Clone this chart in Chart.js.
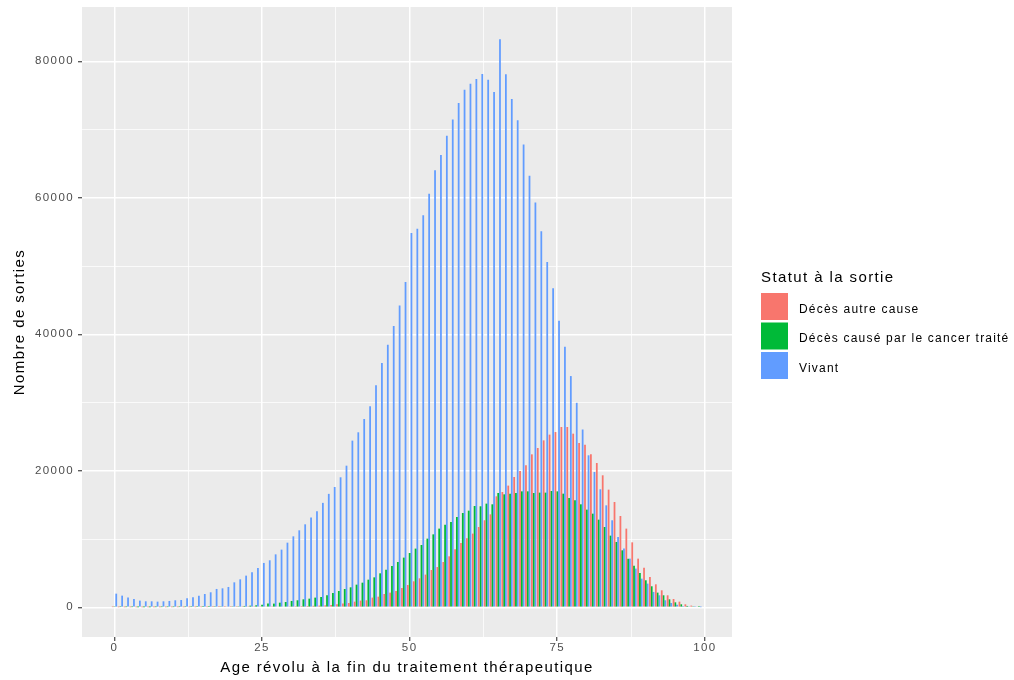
<!DOCTYPE html>
<html lang="fr">
<head>
<meta charset="utf-8">
<title>Statut à la sortie selon l'âge</title>
<script src="https://cdn.jsdelivr.net/npm/chart.js@4.4.1/dist/chart.umd.min.js"></script>
<style>
  html, body { margin: 0; padding: 0; background: #fff; }
  #chart { display: block; }
</style>
</head>
<body>
<canvas id="chart" width="1014" height="680"></canvas>
<script>
// Ages (x) and counts per status
const ages = [
  0, 1, 2, 3, 4, 5, 6, 7, 8, 9, 10, 11, 12, 13, 14, 15, 16, 17, 18, 19,
  20, 21, 22, 23, 24, 25, 26, 27, 28, 29, 30, 31, 32, 33, 34, 35, 36, 37, 38, 39,
  40, 41, 42, 43, 44, 45, 46, 47, 48, 49, 50, 51, 52, 53, 54, 55, 56, 57, 58, 59,
  60, 61, 62, 63, 64, 65, 66, 67, 68, 69, 70, 71, 72, 73, 74, 75, 76, 77, 78, 79,
  80, 81, 82, 83, 84, 85, 86, 87, 88, 89, 90, 91, 92, 93, 94, 95, 96, 97, 98, 99,
];

const autreCause = [
  30, 10, 10, 10, 10, 10, 10, 10, 10, 10, 15, 15, 15, 20, 20, 25, 30, 35, 40, 45,
  50, 55, 60, 65, 70, 80, 90, 100, 110, 120, 140, 160, 180, 200, 220, 250, 290, 340, 440, 540,
  630, 830, 980, 1030, 1420, 1560, 1950, 2150, 2390, 2830, 3270, 3810, 4250, 4790, 5470, 5900, 6640, 7470, 8500, 9420,
  10110, 10800, 11770, 12750, 13620, 16260, 16890, 17830, 19090, 19970, 20800, 22410, 23340, 24460, 25300, 25680, 26420, 26420, 25440, 24070,
  23830, 22410, 21140, 19340, 17240, 15430, 13380, 11530, 9520, 7130, 5810, 4440, 3370, 2490, 1760, 1220, 830, 440, 250, 100,
];

const cancerTraite = [
  60, 40, 30, 30, 25, 25, 25, 25, 30, 30, 30, 35, 35, 40, 45, 50, 55, 60, 70, 100,
  150, 150, 200, 240, 290, 390, 540, 540, 680, 780, 930, 1030, 1170, 1270, 1420, 1510, 1760, 2100, 2390, 2680,
  2930, 3320, 3610, 4050, 4390, 4980, 5520, 6050, 6640, 7280, 7960, 8600, 9130, 10060, 10690, 11530, 12110, 12500, 13230, 13820,
  14160, 14840, 14800, 15190, 15090, 16750, 16550, 16650, 16750, 16990, 16990, 16750, 16800, 16800, 17040, 16990, 16650, 16010, 15680, 15090,
  14310, 13720, 12840, 11770, 10500, 9570, 8350, 7130, 6100, 5030, 3960, 3080, 2150, 1760, 1170, 730, 440, 200, 100, 30,
];

const vivant = [
  2000, 1710, 1420, 1220, 980, 880, 880, 830, 880, 930, 1030, 1070, 1320, 1460, 1710, 1950, 2200, 2690, 2780, 2980,
  3660, 4100, 4640, 5130, 5760, 6500, 6890, 7760, 8450, 9470, 10400, 11280, 12160, 13140, 14060, 15300, 16620, 17630, 19050, 20750,
  24420, 25640, 27590, 29450, 32520, 35790, 38480, 41210, 44200, 47660, 54840, 55480, 57430, 60600, 64020, 66270, 69100, 71450, 73880, 75840,
  76720, 77400, 78130, 77300, 75490, 83210, 78080, 74470, 71350, 67790, 63240, 59310, 55080, 50590, 46730, 42000, 38190, 33880, 29960, 26050,
  22270, 19830, 17290, 14940, 12750, 10300, 8600, 7130, 5670, 4200, 3470, 2250, 1760, 1030, 630, 390, 200, 100, 50, 20,
];

const seriesLabels = ["Décès autre cause", "Décès causé par le cancer traité", "Vivant"];
const seriesColors = ["#F8766D", "#00BA38", "#619CFF"];
const legendTitle = "Statut à la sortie";

// Gridlines: every tick gets a line, only the labelled ones are major
const yTicks = [0, 10000, 20000, 30000, 40000, 50000, 60000, 70000, 80000];
const yLabelled = [0, 20000, 40000, 60000, 80000];
const xTicks = [0, 12.5, 25, 37.5, 50, 62.5, 75, 87.5, 100];
const xLabelled = [0, 25, 50, 75, 100];

const FONT = "'Liberation Sans', Arial, sans-serif";
const SPACING = "1.4px";

Chart.defaults.font.family = FONT;

function toPoints(values) {
  return ages.map((age, i) => ({ x: age, y: values[i] }));
}

function isMajor(list, c) {
  return !!(c.tick && list.includes(c.tick.value));
}

// grey panel behind the bars (ggplot look)
const panelBackground = {
  id: "panelBackground",
  beforeDraw(chart) {
    const { ctx, chartArea } = chart;
    ctx.letterSpacing = SPACING;
    ctx.save();
    ctx.fillStyle = "#EBEBEB";
    ctx.fillRect(chartArea.left, chartArea.top,
      chartArea.right - chartArea.left, chartArea.bottom - chartArea.top);
    ctx.restore();
  },
};

// legend on the right, square keys like ggplot
const sideLegend = {
  id: "sideLegend",
  afterDraw(chart) {
    const ctx = chart.ctx;
    ctx.save();
    ctx.textBaseline = "alphabetic";
    ctx.textAlign = "left";
    ctx.fillStyle = "#000";
    ctx.letterSpacing = SPACING;
    ctx.font = "15px " + FONT;
    ctx.fillText(legendTitle, 761, 282);

    ctx.letterSpacing = "1.2px";
    ctx.font = "12px " + FONT;
    chart.data.datasets.forEach((ds, i) => {
      const top = 293 + i * 29.5;
      ctx.fillStyle = ds.backgroundColor;
      ctx.fillRect(761, top, 27, 27);
      ctx.fillStyle = "#000";
      ctx.fillText(ds.label, 799, top + 19.5);
    });
    ctx.restore();
  },
};

const ctx = document.getElementById("chart");

new Chart(ctx, {
  type: "bar",
  data: {
    datasets: [
      { label: seriesLabels[0], data: toPoints(autreCause), backgroundColor: seriesColors[0] },
      { label: seriesLabels[1], data: toPoints(cancerTraite), backgroundColor: seriesColors[1] },
      { label: seriesLabels[2], data: toPoints(vivant), backgroundColor: seriesColors[2] },
    ],
  },
  options: {
    responsive: false,
    animation: false,
    devicePixelRatio: 1,
    layout: {
      padding: { top: 7, right: 282, bottom: 0, left: 0 },
    },
    datasets: {
      bar: {
        categoryPercentage: 0.9,
        barPercentage: 1,
        borderWidth: 0,
      },
    },
    plugins: {
      legend: { display: false },
      tooltip: { enabled: false },
    },
    scales: {
      x: {
        type: "linear",
        min: -5.5,
        max: 104.6,
        offset: false,
        afterBuildTicks: (scale) => {
          scale.ticks = xTicks.map((v) => ({ value: v }));
        },
        afterFit: (scale) => {
          scale.height = 43;
          scale.paddingLeft = 0;
          scale.paddingRight = 0;
        },
        border: { display: false },
        grid: {
          offset: false,
          color: "#FFFFFF",
          lineWidth: (c) => (isMajor(xLabelled, c) ? 1.5 : 0.75),
          tickColor: (c) => (isMajor(xLabelled, c) ? "#333333" : "rgba(0,0,0,0)"),
          tickLength: 4,
          tickWidth: 1.1,
        },
        ticks: {
          autoSkip: false,
          maxRotation: 0,
          padding: 0,
          color: "#4D4D4D",
          font: { size: 11.5 },
          callback: (v) => (xLabelled.includes(v) ? String(v) : ""),
        },
        title: {
          display: true,
          text: "Age révolu à la fin du traitement thérapeutique",
          color: "#000",
          font: { size: 15 },
          padding: { top: 0, bottom: 3 },
        },
      },
      y: {
        min: -4350,
        max: 87950,
        afterBuildTicks: (scale) => {
          scale.ticks = yTicks.map((v) => ({ value: v }));
        },
        afterFit: (scale) => {
          scale.width = 82;
          scale.paddingTop = 0;
          scale.paddingBottom = 0;
        },
        border: { display: false },
        grid: {
          color: "#FFFFFF",
          lineWidth: (c) => (isMajor(yLabelled, c) ? 1.5 : 0.75),
          tickColor: (c) => (isMajor(yLabelled, c) ? "#333333" : "rgba(0,0,0,0)"),
          tickLength: 4,
          tickWidth: 1.1,
        },
        ticks: {
          padding: 4,
          color: "#4D4D4D",
          font: { size: 11.5 },
          callback: (v) => (yLabelled.includes(v) ? String(v) : ""),
        },
        title: {
          display: true,
          text: "Nombre de sorties",
          color: "#000",
          font: { size: 15 },
          padding: { top: 11, bottom: 0 },
        },
      },
    },
  },
  plugins: [panelBackground, sideLegend],
});
</script>
</body>
</html>
